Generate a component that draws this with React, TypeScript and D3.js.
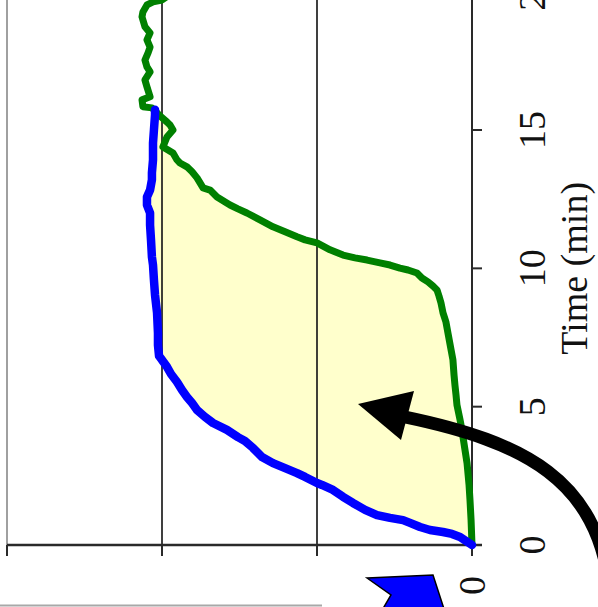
import React from "react";
import * as d3 from "d3";

// Time axis (minutes) and value axis
const timeTicks = [0, 5, 10, 15, 20];
const timeTickLabels = ["0", "5", "10", "15", "20"];
const valueTicks = [0, 1, 2, 3];
const valueLabelTicks = [0];
const valueTickLabels = ["0"];
const axisTitle = "Time (min)";

// Blue series: [time, value]
const blueTime = [0, 0.29, 0.4, 0.47, 0.54, 0.65, 0.8, 0.9, 0.98, 1.08, 1.27, 1.52, 1.74, 1.99, 2.17, 2.24, 2.46, 2.6, 2.78, 2.96, 3.18, 3.51, 3.76, 3.9, 4.16, 4.41, 4.63, 4.88, 5.13, 5.35, 5.6, 5.89, 6.18, 6.44, 6.69, 6.83, 7.23, 7.66, 8.39, 9.04, 9.58, 10.12, 10.41, 11.03, 11.57, 12.0, 12.29, 12.58, 12.83, 13.2, 13.45, 13.92, 14.53, 15.0, 15.55, 15.73];
const blueValue = [0, 0.077, 0.129, 0.187, 0.271, 0.335, 0.4, 0.445, 0.529, 0.613, 0.69, 0.768, 0.832, 0.897, 0.968, 1.0, 1.077, 1.129, 1.206, 1.284, 1.355, 1.413, 1.465, 1.51, 1.581, 1.671, 1.723, 1.774, 1.806, 1.839, 1.871, 1.903, 1.942, 1.968, 2.0, 2.019, 2.026, 2.026, 2.032, 2.045, 2.052, 2.058, 2.065, 2.071, 2.077, 2.077, 2.097, 2.097, 2.077, 2.065, 2.065, 2.058, 2.058, 2.052, 2.045, 2.045];

// Green series: [time, value]
const greenTime = [0, 0.9, 1.63, 2.17, 2.96, 3.43, 4.16, 4.52, 5.06, 5.42, 5.78, 6.15, 6.69, 7.05, 7.66, 8.06, 8.39, 8.75, 9.0, 9.22, 9.36, 9.51, 9.65, 9.83, 9.94, 10.01, 10.12, 10.2, 10.3, 10.38, 10.48, 10.67, 10.92, 11.03, 11.14, 11.32, 11.5, 11.75, 12.0, 12.15, 12.29, 12.58, 12.83, 12.91, 13.27, 13.49, 13.67, 13.81, 13.92, 14.17, 14.28, 14.39, 14.75, 15.0, 15.18, 15.29, 15.51, 15.62, 15.8, 15.84, 16.09, 16.2, 16.56, 16.81, 17.1, 17.28, 17.53, 17.79, 18.0, 18.26, 18.51, 18.73, 19.09, 19.27, 19.52, 19.63, 19.7, 19.9];
const greenValue = [0, 0.006, 0.013, 0.019, 0.032, 0.045, 0.065, 0.077, 0.097, 0.103, 0.11, 0.116, 0.123, 0.135, 0.155, 0.168, 0.187, 0.2, 0.213, 0.226, 0.252, 0.284, 0.323, 0.355, 0.413, 0.465, 0.529, 0.594, 0.677, 0.755, 0.832, 0.916, 1.0, 1.077, 1.129, 1.206, 1.284, 1.368, 1.452, 1.51, 1.561, 1.645, 1.69, 1.735, 1.774, 1.806, 1.839, 1.884, 1.903, 1.929, 1.961, 1.994, 1.968, 1.929, 1.948, 1.968, 2.013, 2.032, 2.065, 2.123, 2.129, 2.077, 2.097, 2.11, 2.077, 2.097, 2.11, 2.09, 2.077, 2.097, 2.077, 2.11, 2.129, 2.123, 2.097, 2.058, 2.0, 1.95];

const W = 598;
const H = 607;

export default function App() {
  const y = d3.scaleLinear().domain([0, 20]).range([545, -8.3]);
  const x = d3.scaleLinear().domain([0, 3]).range([472, 7]);

  const blue = blueTime.map((t, i) => [t, blueValue[i]] as [number, number]);
  const green = greenTime.map((t, i) => [t, greenValue[i]] as [number, number]);
  const tEnd = blueTime[blueTime.length - 1];
  const greenFill = green.filter((d) => d[0] <= tEnd + 0.1);
  const fillPts = blue.concat(greenFill.slice().reverse());

  const line = d3
    .line<[number, number]>()
    .x((d) => x(d[1]))
    .y((d) => y(d[0]));

  const font = "'Liberation Serif', 'Times New Roman', serif";
  const axisColor = "#2a2a2a";

  return (
    <svg
      width={W}
      height={H}
      style={{ position: "absolute", left: 0, top: 0, background: "#fff" }}
    >
      {/* fill between curves */}
      <path d={(line(fillPts) || "") + "Z"} fill="#FFFFCC" stroke="none" />

      {/* plot area left border */}
      <line x1={x(3)} x2={x(3)} y1={y(20)} y2={y(0)} stroke="#a0a0a0" strokeWidth={2} />

      {/* gridlines */}
      {valueTicks
        .filter((v) => v > 0 && v < 3)
        .map((v) => (
          <line key={"g" + v} x1={x(v)} x2={x(v)} y1={y(20)} y2={y(0)} stroke="#1e1e1e" strokeWidth={1.7} />
        ))}

      {/* value axis (bottom) */}
      <line x1={x(3)} x2={x(0) + 10} y1={y(0)} y2={y(0)} stroke={axisColor} strokeWidth={2.6} />
      {valueTicks.map((v) => (
        <line key={"vt" + v} x1={x(v)} x2={x(v)} y1={y(0)} y2={y(0) + 11} stroke={axisColor} strokeWidth={2} />
      ))}

      {/* time axis (right) */}
      <line x1={x(0)} x2={x(0)} y1={y(20)} y2={y(0)} stroke={axisColor} strokeWidth={2} />
      {timeTicks.map((t) => (
        <line key={"tt" + t} x1={x(0)} x2={x(0) + 10} y1={y(t)} y2={y(t)} stroke={axisColor} strokeWidth={2} />
      ))}

      {/* series */}
      <path d={line(green) || ""} fill="none" stroke="#008000" strokeWidth={7} strokeLinejoin="round" strokeLinecap="round" />
      <path d={line(blue) || ""} fill="none" stroke="#0000FF" strokeWidth={8.5} strokeLinejoin="round" strokeLinecap="round" />

      {/* time tick labels */}
      {timeTicks.map((t, i) => (
        <text
          key={"tl" + t}
          transform={`translate(545,${y(t)}) rotate(-90)`}
          textAnchor="middle"
          fontFamily={font}
          fontSize={38}
          fill="#111"
        >
          {timeTickLabels[i]}
        </text>
      ))}

      {/* value tick labels */}
      {valueLabelTicks.map((v, i) => (
        <text
          key={"vl" + v}
          transform={`translate(${x(v) + 13},576) rotate(-90)`}
          textAnchor="end"
          fontFamily={font}
          fontSize={38}
          fill="#111"
        >
          {valueTickLabels[i]}
        </text>
      ))}

      {/* axis title */}
      <text
        transform={`translate(587,${(y(0) + y(20)) / 2}) rotate(-90)`}
        textAnchor="middle"
        fontFamily={font}
        fontSize={38}
        fill="#111"
      >
        {axisTitle}
      </text>

      {/* annotation: curved black arrow */}
      <path d="M 610 590 C 598 480, 525 442, 405 417" fill="none" stroke="#000" strokeWidth={13} />
      <polygon points="358,404 414,391 401,440" fill="#000" />

      {/* annotation: blue arrow shape at bottom */}
      <polygon points="367,578 433,575 445,612 381,612 391,595" fill="#0000FF" stroke="#000" strokeWidth={1.5} />

      {/* bottom gray box edge */}
      <line x1={0} x2={322} y1={605.5} y2={605.5} stroke="#a8a8a8" strokeWidth={2} />
    </svg>
  );
}
